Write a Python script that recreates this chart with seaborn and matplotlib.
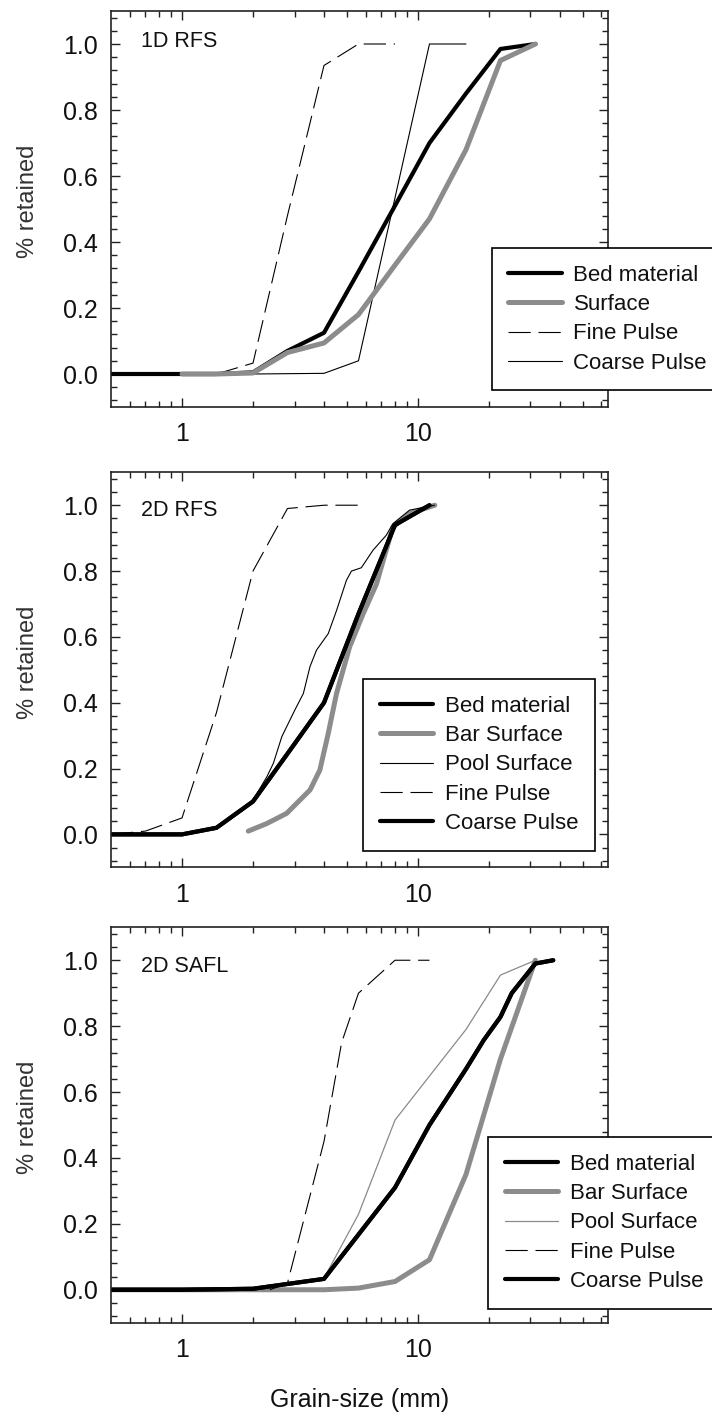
import numpy as np
import pandas as pd
import matplotlib
matplotlib.use("Agg")
import matplotlib.pyplot as plt
import seaborn as sns

sns.set_style("ticks")
plt.rcParams['font.family'] = ['Liberation Sans', 'DejaVu Sans']

# ---------------- data ----------------
panel_titles = ["1D RFS", "2D RFS", "2D SAFL"]
x_tick_values = [1, 10]
x_tick_labels = ["1", "10"]
y_tick_values = [0.0, 0.2, 0.4, 0.6, 0.8, 1.0]
y_tick_labels = ["0.0", "0.2", "0.4", "0.6", "0.8", "1.0"]

# Panel 1: 1D RFS
p1_bed_x = [0.5, 1.0, 1.4, 2.0, 2.8, 4.0, 5.6, 8.0, 11.2, 16.0, 22.4, 31.5]
p1_bed_y = [0.0, 0.0, 0.0, 0.005, 0.07, 0.125, 0.31, 0.51, 0.70, 0.85, 0.985, 1.0]
p1_surf_x = [1.0, 1.4, 2.0, 2.8, 4.0, 5.6, 8.0, 11.2, 16.0, 22.4, 31.5]
p1_surf_y = [0.0, 0.0, 0.003, 0.065, 0.094, 0.18, 0.33, 0.47, 0.68, 0.95, 1.0]
p1_fine_x = [1.4, 2.0, 2.8, 4.0, 5.6, 8.0]
p1_fine_y = [0.0, 0.033, 0.48, 0.935, 1.0, 1.0]
p1_coarse_x = [2.0, 4.0, 5.6, 11.2, 16.0]
p1_coarse_y = [0.0, 0.002, 0.04, 1.0, 1.0]

# Panel 2: 2D RFS
p2_bed_x = [0.5, 1.0, 1.4, 2.0, 2.8, 4.0, 5.6, 8.0, 11.2]
p2_bed_y = [0.0, 0.0, 0.02, 0.10, 0.245, 0.40, 0.67, 0.94, 1.0]
p2_bar_x = [1.91, 2.29, 2.78, 3.49, 3.84, 4.17, 4.52, 5.14, 5.86, 6.67, 7.84, 9.22, 11.8]
p2_bar_y = [0.01, 0.033, 0.064, 0.135, 0.195, 0.307, 0.428, 0.57, 0.67, 0.76, 0.934, 0.975, 1.0]
p2_pool_x = [1.98, 2.29, 2.44, 2.65, 3.01, 3.27, 3.49, 3.72, 4.17, 4.52, 4.98, 5.23,
             5.76, 6.45, 7.35, 7.84, 9.22, 11.76]
p2_pool_y = [0.099, 0.175, 0.216, 0.297, 0.378, 0.428, 0.51, 0.56, 0.61, 0.68, 0.772, 0.80,
             0.81, 0.863, 0.909, 0.944, 0.985, 1.0]
p2_fine_x = [0.5, 0.7, 1.0, 1.4, 2.0, 2.8, 4.0, 5.6]
p2_fine_y = [0.0, 0.01, 0.05, 0.37, 0.80, 0.99, 1.0, 1.0]
p2_coarse_x = [0.5, 1.0, 1.4, 2.0, 2.8, 4.0, 5.6, 8.0, 11.2]
p2_coarse_y = [0.0, 0.0, 0.02, 0.10, 0.245, 0.40, 0.67, 0.94, 1.0]

# Panel 3: 2D SAFL
p3_bed_x = [0.5, 1.0, 2.0, 4.0, 8.0, 11.2, 16.0, 19.0, 22.4, 25.0, 31.5, 37.5]
p3_bed_y = [0.0, 0.0, 0.003, 0.033, 0.31, 0.50, 0.67, 0.757, 0.828, 0.90, 0.99, 1.0]
p3_bar_x = [0.5, 1.0, 2.0, 4.0, 5.6, 8.0, 11.2, 16.0, 22.4, 31.5]
p3_bar_y = [0.0, 0.0, 0.0, 0.0, 0.005, 0.025, 0.091, 0.35, 0.70, 1.0]
p3_pool_x = [2.0, 4.0, 5.6, 8.0, 16.0, 22.4, 31.5]
p3_pool_y = [0.0, 0.035, 0.229, 0.515, 0.79, 0.955, 1.0]
p3_fine_x = [2.36, 2.8, 4.0, 4.75, 5.6, 8.0, 11.2]
p3_fine_y = [0.0, 0.02, 0.45, 0.75, 0.90, 1.0, 1.0]
p3_coarse_x = [0.5, 1.0, 2.0, 4.0, 8.0, 11.2, 16.0, 19.0, 22.4, 25.0, 31.5, 37.5]
p3_coarse_y = [0.0, 0.0, 0.003, 0.033, 0.31, 0.50, 0.67, 0.757, 0.828, 0.90, 0.99, 1.0]

# ---------------- styles ----------------
BLACK_THICK = dict(color="black", linewidth=3.0, solid_capstyle="round")
GRAY_THICK = dict(color="#8c8c8c", linewidth=3.6, solid_capstyle="round")
THIN_BLACK = dict(color="black", linewidth=0.8)
THIN_GRAY = dict(color="#8a8a8a", linewidth=0.9)
DASHED = dict(color="black", linewidth=0.8, dashes=(20, 7))

W, H = 712, 1419
fig = plt.figure(figsize=(W / 100, H / 100), dpi=100)

ax_rects = [
    [111 / W, 1 - 407 / H, 497 / W, 396 / H],
    [111 / W, 1 - 867.3 / H, 497 / W, 395 / H],
    [111 / W, 1 - 1322.7 / H, 497 / W, 395.4 / H],
]
legend_anchor = [(491.7, 248.3), (363.3, 679.3), (488.0, 1137.3)]
title_y = [1.008, 0.985, 0.98]


def draw(ax, x, y, label, style):
    df = pd.DataFrame({"x": x, "y": y})
    n0 = len(ax.lines)
    sns.lineplot(data=df, x="x", y="y", ax=ax, sort=False, estimator=None,
                 legend=False, **style)
    return ax.lines[n0], label


def style_axes(ax, idx):
    ax.set_xscale("log")
    ax.set_xlim(0.5, 64)
    ax.set_ylim(-0.1, 1.1)
    ax.set_xticks(x_tick_values)
    ax.set_xticklabels(x_tick_labels)
    minor_x = [0.6, 0.7, 0.8, 0.9, 2, 3, 4, 5, 6, 7, 8, 9, 20, 30, 40, 50, 60]
    ax.set_xticks(minor_x, minor=True)
    ax.xaxis.set_minor_formatter(matplotlib.ticker.NullFormatter())
    ax.set_yticks(y_tick_values)
    ax.set_yticklabels(y_tick_labels)
    ax.set_yticks(np.round(np.arange(-0.08, 1.09, 0.04), 2), minor=True)
    ax.tick_params(which="both", direction="in", top=True, right=True,
                   width=1.0, color="#222222")
    ax.tick_params(which="major", length=6.5)
    ax.tick_params(which="minor", length=4.5)
    ax.tick_params(axis="y", which="major", labelsize=18, pad=9.5, labelcolor="#111111")
    ax.tick_params(axis="x", which="major", labelsize=18, pad=11, labelcolor="#111111")
    for sp in ax.spines.values():
        sp.set_linewidth(1.2)
        sp.set_color("#222222")
        sp.set_visible(True)
    ax.set_xlabel("")
    ax.set_ylabel("% retained", fontsize=17, color="#333333")
    ax.yaxis.set_label_coords(-0.145, 0.52)
    ax.text(0.06, title_y[idx], panel_titles[idx], transform=ax.get_yaxis_transform(),
            fontsize=15.5, va="center", ha="left", color="#111111")


axes = [fig.add_axes(r) for r in ax_rects]

# Panel 1
ax = axes[0]
h_fine = draw(ax, p1_fine_x, p1_fine_y, "Fine Pulse", DASHED)
h_coarse = draw(ax, p1_coarse_x, p1_coarse_y, "Coarse Pulse", THIN_BLACK)
h_bed = draw(ax, p1_bed_x, p1_bed_y, "Bed material", BLACK_THICK)
h_surf = draw(ax, p1_surf_x, p1_surf_y, "Surface", GRAY_THICK)
handles1 = [h_bed, h_surf, h_fine, h_coarse]

# Panel 2
ax = axes[1]
h_bar = draw(ax, p2_bar_x, p2_bar_y, "Bar Surface", GRAY_THICK)
h_pool = draw(ax, p2_pool_x, p2_pool_y, "Pool Surface", THIN_BLACK)
h_fine = draw(ax, p2_fine_x, p2_fine_y, "Fine Pulse", DASHED)
h_bed = draw(ax, p2_bed_x, p2_bed_y, "Bed material", BLACK_THICK)
h_coarse = draw(ax, p2_coarse_x, p2_coarse_y, "Coarse Pulse", BLACK_THICK)
handles2 = [h_bed, h_bar, h_pool, h_fine, h_coarse]

# Panel 3
ax = axes[2]
h_bar = draw(ax, p3_bar_x, p3_bar_y, "Bar Surface", GRAY_THICK)
h_pool = draw(ax, p3_pool_x, p3_pool_y, "Pool Surface", THIN_GRAY)
h_fine = draw(ax, p3_fine_x, p3_fine_y, "Fine Pulse", DASHED)
h_bed = draw(ax, p3_bed_x, p3_bed_y, "Bed material", BLACK_THICK)
h_coarse = draw(ax, p3_coarse_x, p3_coarse_y, "Coarse Pulse", BLACK_THICK)
handles3 = [h_bed, h_bar, h_pool, h_fine, h_coarse]

for i, (ax, hl) in enumerate(zip(axes, [handles1, handles2, handles3])):
    style_axes(ax, i)
    lx, ly = legend_anchor[i]
    leg = ax.legend([h for h, _ in hl], [l for _, l in hl],
                    loc="upper left", bbox_to_anchor=(lx / W, 1 - ly / H),
                    bbox_transform=fig.transFigure, borderaxespad=0,
                    fontsize=16, frameon=True, fancybox=False, shadow=False,
                    framealpha=1, edgecolor="black", handlelength=2.4,
                    handletextpad=0.53, borderpad=0.75, labelspacing=0.37)
    leg.get_frame().set_linewidth(1.2)
    for t in leg.get_texts():
        t.set_color("#111111")

axes[2].set_xlabel("Grain-size (mm)", fontsize=18, color="#111111")
axes[2].xaxis.set_label_coords(0.5, -0.165)
axes[2].xaxis.label.set_va("top")

fig.savefig("out.png", dpi=100)
